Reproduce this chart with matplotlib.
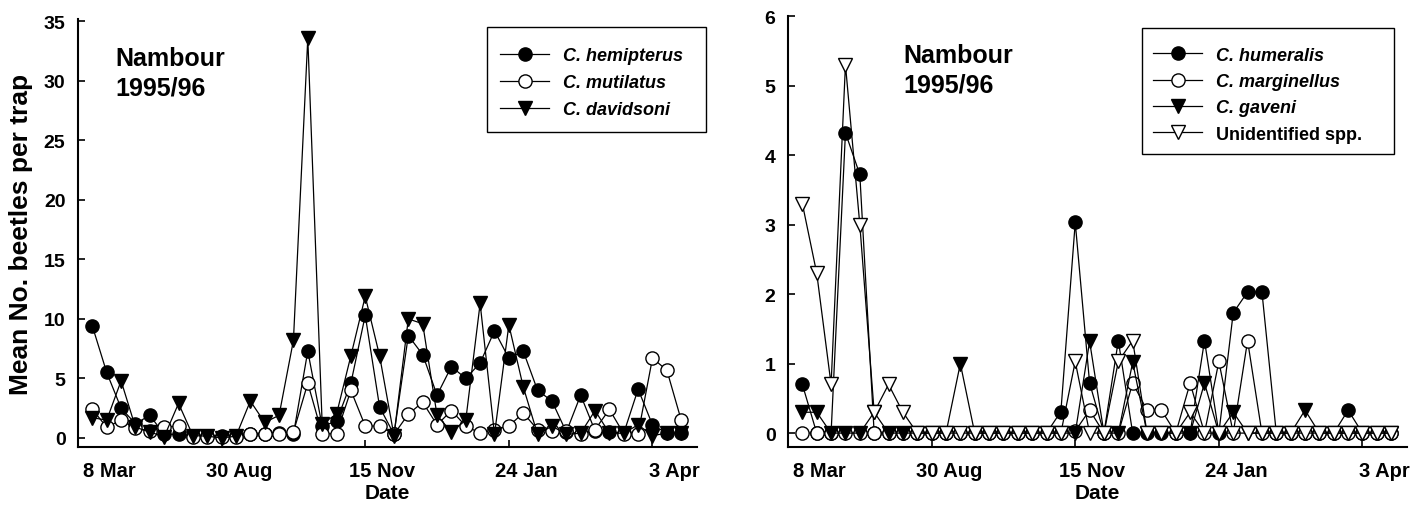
import matplotlib
matplotlib.use("Agg")
import matplotlib.pyplot as plt
from matplotlib.patches import Rectangle

plt.rcParams['font.family'] = ['Liberation Sans', 'DejaVu Sans']
plt.rcParams['font.weight'] = 'bold'

# ---------------- data ----------------
sample = list(range(1, 43))
date_labels = ['8 Mar', '30 Aug', '15 Nov', '24 Jan', '3 Apr']
date_ticks = [0, 10, 20, 30, 40]

left_names = ['C. hemipterus', 'C. mutilatus', 'C. davidsoni']
hemipterus = [9.4, 5.5, 2.5, 1.2, 1.9, 0.3, 0.3, 0.2, 0.2, 0.2, 0.2, 0.3, 0.3, 0.4,
              0.3, 7.3, 1.0, 1.4, 4.6, 10.3, 2.6, 0.3, 8.6, 7.0, 3.6, 6.0, 5.0, 6.3,
              9.0, 6.7, 7.3, 4.0, 3.1, 0.5, 3.6, 0.6, 0.5, 0.4, 4.1, 1.1, 0.4, 0.4]
mutilatus = [2.4, 0.9, 1.5, 0.8, 0.6, 0.9, 1.0, 0.1, 0.1, 0.1, 0.1, 0.35, 0.35, 0.35,
             0.5, 4.6, 0.35, 0.35, 4.0, 1.0, 1.0, 0.3, 2.0, 3.0, 1.1, 2.3, 1.0, 0.4,
             0.7, 1.0, 2.1, 0.7, 0.6, 0.6, 0.3, 0.7, 2.4, 0.35, 0.35, 6.7, 5.7, 1.5]
davidsoni = [1.7, 1.5, 4.8, 0.9, 0.5, 0.1, 2.9, 0.2, 0.15, 0.0, 0.15, 3.1, 1.3, 1.9,
             8.2, 33.6, 1.2, 2.0, 6.9, 11.9, 6.9, 0.2, 10.0, 9.6, 1.9, 0.5, 1.5, 11.3,
             0.3, 9.5, 4.3, 0.3, 1.0, 0.3, 0.4, 2.3, 0.4, 0.4, 1.1, 0.2, 0.4, 0.4]

right_names = ['C. humeralis', 'C. marginellus', 'C. gaveni', 'Unidentified spp.']
humeralis = [0.7, 0, 0, 4.32, 3.72, 0, 0, 0, 0, 0, 0, 0, 0, 0,
             0, 0, 0, 0, 0.31, 3.03, 0.72, 0, 1.33, 0, 0, 0, 0, 0,
             1.33, 0, 1.73, 2.03, 2.03, 0, 0, 0, 0, 0, 0.33, 0, 0, 0]
marginellus = [0, 0, 0, 0, 0, 0, 0, 0, 0, 0, 0, 0, 0, 0,
               0, 0, 0, 0, 0, 0.03, 0.33, 0, 0, 0.72, 0.33, 0.33, 0, 0.72,
               0, 1.03, 0, 1.33, 0, 0, 0, 0, 0, 0, 0, 0, 0, 0]
gaveni = [0.3, 0.3, 0, 0, 0, 0.3, 0, 0, 0, 0, 0, 1.0, 0, 0,
          0, 0, 0, 0, 0, 0, 1.32, 0, 0, 1.02, 0, 0, 0, 0,
          0.72, 0, 0.3, 0, 0, 0, 0, 0.33, 0, 0, 0, 0, 0, 0]
unidentified = [3.3, 2.3, 0.7, 5.3, 3.0, 0.3, 0.7, 0.3, 0, 0, 0, 0, 0, 0,
                0, 0, 0, 0, 0, 1.03, 0, 0, 1.03, 1.33, 0, 0, 0, 0.3,
                0, 0, 0, 0, 0, 0, 0, 0, 0, 0, 0, 0, 0, 0]

# ---------------- layout ----------------
W, H = 1427, 506
fig = plt.figure(figsize=(W / 100, H / 100), dpi=100)
ax1 = fig.add_axes([78 / W, 58 / H, 619 / W, 428 / H])
ax2 = fig.add_axes([788 / W, 58 / H, 619 / W, 431 / H])

label_pos = [2.2, 11.2, 21.2, 31.2, 41.5]

styles_filled_c = dict(marker='o', mfc='black', mec='black')
styles_open_c = dict(marker='o', mfc='white', mec='black')
styles_filled_t = dict(marker='v', mfc='black', mec='black')
styles_open_t = dict(marker='v', mfc='white', mec='black')
common = dict(color='black', lw=0.9, ms=9.5, mew=1.0, clip_on=False)
leg_prop = dict(family='Liberation Sans', weight='bold', style='italic', size=13)


def style_axes(ax, ylim, yticks):
    ax.set_xlim(0, 43.1)
    ax.set_ylim(*ylim)
    ax.set_yticks(yticks)
    ax.set_xticks(date_ticks)
    ax.set_xticklabels([])
    ax.set_xticks(label_pos, minor=True)
    ax.set_xticklabels(date_labels, minor=True, fontsize=14.5, fontweight='bold')
    ax.tick_params(axis='x', which='minor', length=0, pad=10)
    ax.tick_params(axis='x', which='major', direction='in', length=5, width=1.2)
    ax.tick_params(axis='y', direction='in', length=5, width=1.2, pad=9,
                   labelsize=14)
    for lab in ax.get_yticklabels():
        lab.set_fontweight('bold')
    for s in ['top', 'right']:
        ax.spines[s].set_visible(False)
    for s in ['left', 'bottom']:
        ax.spines[s].set_linewidth(1.5)
    ax.set_xlabel('Date', fontsize=15, fontweight='bold', labelpad=2)


def framed_legend(ax, anchor, box, spacing):
    leg = ax.legend(loc='upper left', bbox_to_anchor=anchor, frameon=False,
                    prop=leg_prop, handlelength=2.7, handletextpad=0.8,
                    labelspacing=spacing, borderpad=0, borderaxespad=0)
    x0, y0, x1, y1 = box
    ax.add_patch(Rectangle((x0, y0), x1 - x0, y1 - y0, transform=ax.transAxes,
                           fill=False, edgecolor='black', lw=1.0, clip_on=False))
    return leg


# left panel
ax1.plot(sample, hemipterus, label=left_names[0], **styles_filled_c, **common)
ax1.plot(sample, mutilatus, label=left_names[1], **styles_open_c, **common)
ax1.plot(sample, davidsoni, label=left_names[2], **styles_filled_t, **common)
style_axes(ax1, (-0.76, 35.2), range(0, 36, 5))
ax1.set_ylabel('Mean No. beetles per trap', fontsize=19, fontweight='bold', labelpad=8)
ax1.text(0.06, 0.937, 'Nambour\n1995/96', transform=ax1.transAxes, fontsize=18,
         fontweight='bold', va='top', ha='left', linespacing=1.3)
framed_legend(ax1, (0.682, 0.934), (0.661, 0.736, 1.015, 0.981), 0.56)

# right panel
ax2.plot(sample, humeralis, label=right_names[0], **styles_filled_c, **common)
ax2.plot(sample, marginellus, label=right_names[1], **styles_open_c, **common)
ax2.plot(sample, gaveni, label=right_names[2], **styles_filled_t, **common)
ax2.plot(sample, unidentified, label=right_names[3], **styles_open_t, **common)
style_axes(ax2, (-0.2, 6.0), range(0, 7))
ax2.text(0.186, 0.937, 'Nambour\n1995/96', transform=ax2.transAxes, fontsize=18,
         fontweight='bold', va='top', ha='left', linespacing=1.3)
leg2 = framed_legend(ax2, (0.590, 0.929), (0.572, 0.680, 0.979, 0.972), 0.52)
leg2.get_texts()[3].set_fontstyle('normal')

fig.savefig('out.png', dpi=100)
